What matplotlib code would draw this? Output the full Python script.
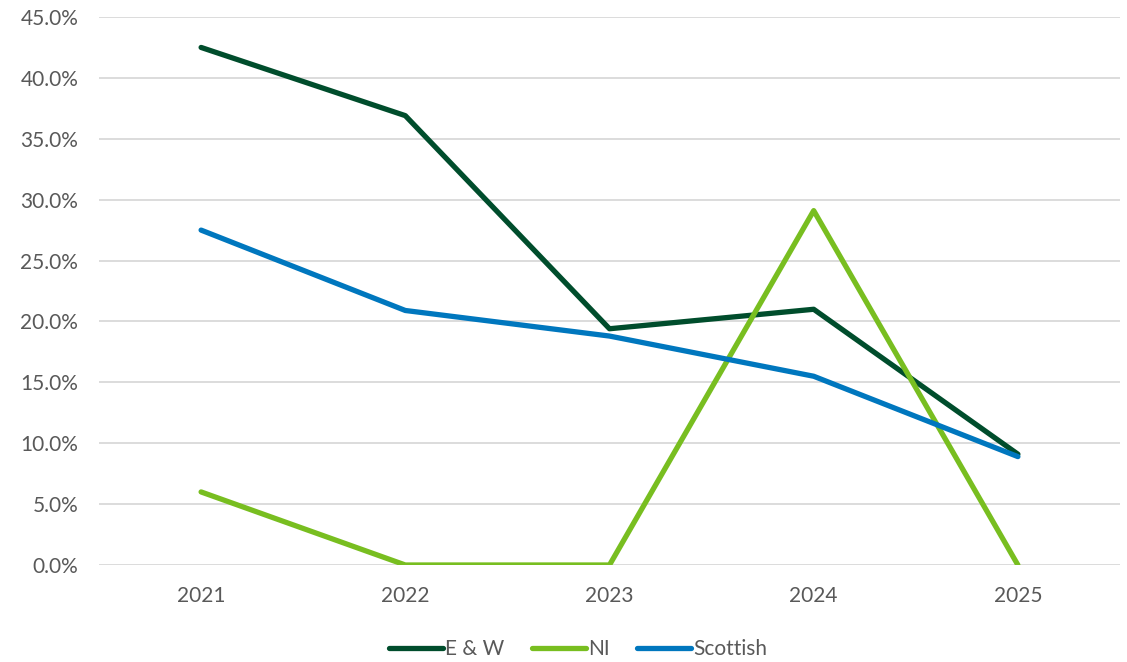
import matplotlib.pyplot as plt
from matplotlib.ticker import FuncFormatter

plt.rcParams['font.family'] = ['Lato', 'DejaVu Sans']

years = ['2021', '2022', '2023', '2024', '2025']
ew = [42.5, 36.9, 19.4, 21.0, 9.1]
ni = [6.0, 0.0, 0.0, 29.1, 0.0]
scottish = [27.5, 20.9, 18.8, 15.5, 8.9]

fig = plt.figure(figsize=(11.27, 6.62), dpi=100)
ax = fig.add_axes([99 / 1127, 97 / 662, 1021 / 1127, 548 / 662])

x = range(len(years))
ax.plot(x, ew, color='#004D2C', lw=3.8, solid_capstyle='round', solid_joinstyle='round', label='E & W', zorder=3)
ax.plot(x, ni, color='#78BE20', lw=3.8, solid_capstyle='round', solid_joinstyle='round', label='NI', zorder=3)
ax.plot(x, scottish, color='#0077BE', lw=3.8, solid_capstyle='round', solid_joinstyle='round', label='Scottish', zorder=3)

ax.set_xlim(-0.5, 4.5)
ax.set_ylim(0, 45)
ax.set_yticks([i * 5 for i in range(10)])
ax.yaxis.set_major_formatter(FuncFormatter(lambda v, p: f'{v:.1f}%'))
ax.set_xticks(list(x))
ax.set_xticklabels(years)
ax.grid(axis='y', color='#D9D9D9', lw=1.3)
ax.set_axisbelow(True)
for s in ax.spines.values():
    s.set_visible(False)
ax.tick_params(length=0, labelsize=15, colors='#595959')
ax.tick_params(axis='x', pad=15)
ax.tick_params(axis='y', pad=15)

ax.legend(loc='center', bbox_to_anchor=(578 / 1127, 13 / 662), bbox_transform=fig.transFigure,
          ncol=3, frameon=False, fontsize=15, labelcolor='#595959',
          handlelength=2.6, handletextpad=0.1, columnspacing=1.3)

fig.savefig('out.png', dpi=100)
